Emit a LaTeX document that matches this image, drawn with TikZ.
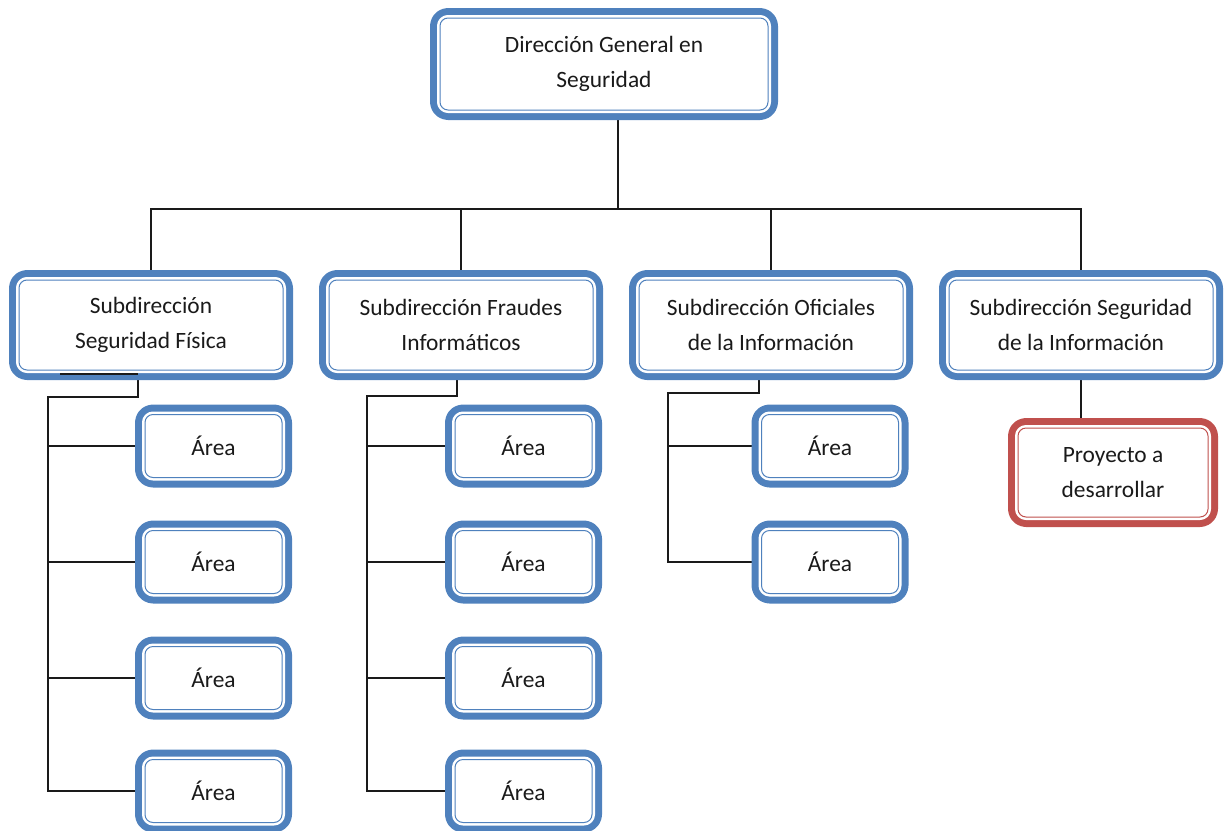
\documentclass[tikz,border=0pt]{standalone}
\usepackage{fontspec}
\setmainfont{Carlito}
\usepackage{tikz}
\usetikzlibrary{positioning, backgrounds}
\definecolor{boxblue}{HTML}{4F81BD}
\definecolor{boxred}{HTML}{C0504D}
\definecolor{ink}{HTML}{1A1A1A}

\begin{document}
\begin{tikzpicture}[x=0.5pt, y=-0.5pt, node distance=26pt and 22.5pt,
  font=\fontsize{11.7pt}{17.5pt}\selectfont, text=ink,
  org/.style={rounded corners=4pt, line join=round, fill=white, draw=#1, line width=0.5pt,
    preaction={draw=#1, line width=10pt, line join=round}, preaction={draw=white, line width=3pt},
    align=center, inner sep=0pt},
  org/.default=boxblue,
  unit/.style={org, minimum width=132pt, minimum height=45pt},
  area/.style={org, minimum width=68.5pt, minimum height=31.5pt},
  link/.style={draw=ink, line width=0.7pt}]
\useasboundingbox (0,0) rectangle (1226,830);

\node[org, minimum width=164pt, minimum height=46pt] (dir) at (604,64) {Dirección General en\\ Seguridad};

\node[unit] (sf) at (151,325) {Subdirección\\ Seguridad Física};
\node[unit, right=of sf] (sfi) {Subdirección Fraudes\\ Informáticos};
\node[unit, right=of sfi] (soi) {Subdirección Oficiales\\ de la Información};
\node[unit, right=of soi] (ssi) {Subdirección Seguridad\\ de la Información};

% areas under each subdireccion
\node[area] (a11) at (213.5,446) {Área};
\node[area, below=of a11] (a12) {Área};
\node[area, below=of a12] (a13) {Área};
\node[area, below=24.5pt of a13] (a14) {Área};

\node[area] (a21) at (523.5,446) {Área};
\node[area, below=of a21] (a22) {Área};
\node[area, below=of a22] (a23) {Área};
\node[area, below=24.5pt of a23] (a24) {Área};

\node[area] (a31) at (830,446) {Área};
\node[area, below=of a31] (a32) {Área};

\node[org=boxred, minimum width=95pt, minimum height=44.5pt] (proj) at (1113,472.5) {Proyecto a\\ desarrollar};

\coordinate (bus) at (618,209);
\coordinate (k1) at (138,397);
\coordinate (v1) at (48,397);
\coordinate (k2) at (457,396);
\coordinate (v2) at (367,396);
\coordinate (k3) at (759,393);
\coordinate (v3) at (668,393);
\coordinate (t1) at (60,374);
\coordinate (t2) at (138,374);

\begin{scope}[on background layer]
\draw[link] (dir.south -| bus) -- (bus);
\draw[link] (sf.north) |- (bus) -| (ssi.north);
\draw[link] (sfi.north) -- (sfi.north |- bus);
\draw[link] (soi.north) -- (soi.north |- bus);
\draw[link] (sf.south -| k1) -- (k1) -- (v1) -- (v1 |- a14.west) -- (a14.west);
\foreach \a in {a11,a12,a13} \draw[link] (v1 |- \a.west) -- (\a.west);
\draw[link] (sfi.south -| k2) -- (k2) -- (v2) -- (v2 |- a24.west) -- (a24.west);
\foreach \a in {a21,a22,a23} \draw[link] (v2 |- \a.west) -- (\a.west);
\draw[link] (soi.south -| k3) -- (k3) -- (v3) -- (v3 |- a32.west) -- (a32.west);
\draw[link] (v3 |- a31.west) -- (a31.west);
\draw[link] (ssi.south) -- (ssi.south |- proj.north);
\end{scope}
\draw[link] (t1) -- (t2);
\end{tikzpicture}
\end{document}
